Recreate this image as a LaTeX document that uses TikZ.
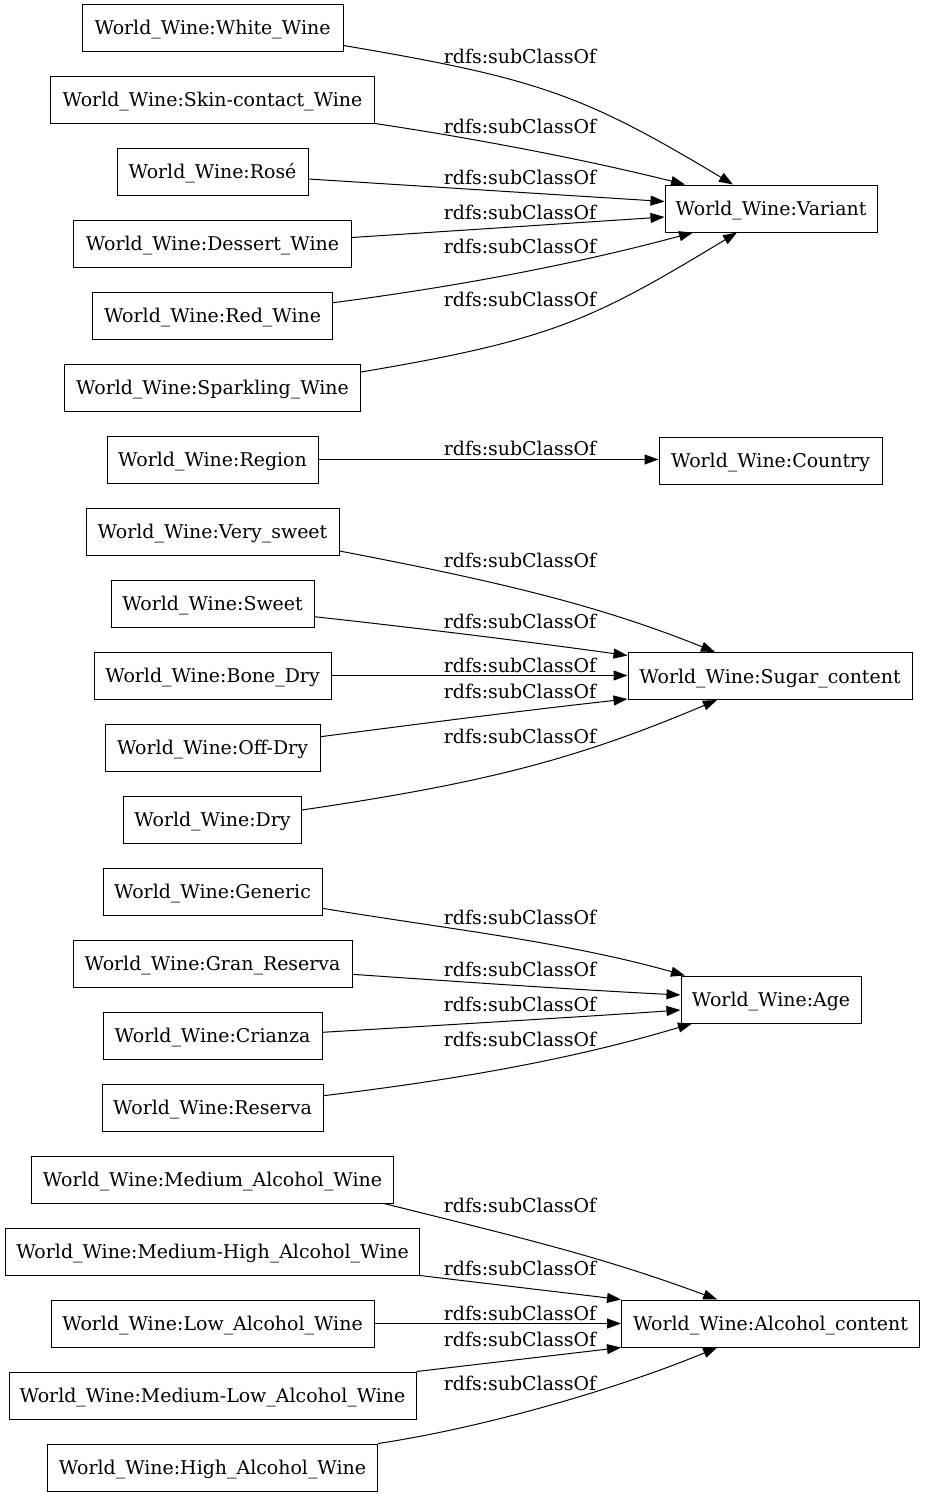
\documentclass[tikz,border=0pt]{standalone}
\usepackage{fontspec}
\setmainfont{DejaVu Serif}
\usetikzlibrary{arrows.meta,calc}
\newlength\refw
\begin{document}
\settowidth{\refw}{\normalfont\fontsize{10pt}{12pt}\selectfont World\_Wine:Variant}%
\pgfmathsetmacro\fsz{10*190.7/\refw}%
\pgfmathsetmacro\txh{0.88*\fsz}%
\pgfmathsetmacro\txd{0.12*\fsz}%
\begin{tikzpicture}[x=1pt,y=-1pt]
\tikzset{
  cls/.style={draw, line width=1pt, inner sep=0pt, minimum height=47pt,
    minimum width=#1, font=\fontsize{\fsz pt}{\fsz pt}\selectfont,
    text height=\txh pt, text depth=\txd pt},
  lbl/.style={inner sep=0pt, anchor=base, font=\fontsize{\fsz pt}{\fsz pt}\selectfont},
  edge/.style={line width=1pt, -{Triangle[length=14pt,width=10pt]}}
}
\path[fill=white] (0,0) rectangle (925,1499);
\useasboundingbox (0,0) rectangle (925,1499);

% left column
\node[cls=261pt] (n1) at (212.5,27.5) {World\_Wine:White\_Wine};
\node[cls=324pt] (n2) at (212.5,99.5) {World\_Wine:Skin-contact\_Wine};
\node[cls=191pt] (n3) at (212.5,171.5) {World\_Wine:Rosé};
\node[cls=278pt] (n4) at (212.5,243.5) {World\_Wine:Dessert\_Wine};
\node[cls=240pt] (n5) at (212.5,315.5) {World\_Wine:Red\_Wine};
\node[cls=296pt] (n6) at (212.5,387.5) {World\_Wine:Sparkling\_Wine};
\node[cls=211pt] (n7) at (212.5,459.5) {World\_Wine:Region};
\node[cls=253pt] (n8) at (212.5,531.5) {World\_Wine:Very\_sweet};
\node[cls=203pt] (n9) at (212.5,603.5) {World\_Wine:Sweet};
\node[cls=237pt] (n10) at (212.5,675.5) {World\_Wine:Bone\_Dry};
\node[cls=215pt] (n11) at (212.5,747.5) {World\_Wine:Off-Dry};
\node[cls=178pt] (n12) at (212.5,819.5) {World\_Wine:Dry};
\node[cls=219pt] (n13) at (212.5,891.5) {World\_Wine:Generic};
\node[cls=279pt] (n14) at (212.5,963.5) {World\_Wine:Gran\_Reserva};
\node[cls=219pt] (n15) at (212.5,1035.5) {World\_Wine:Crianza};
\node[cls=221pt] (n16) at (212.5,1107.5) {World\_Wine:Reserva};
\node[cls=362pt] (n17) at (212.5,1179.5) {World\_Wine:Medium\_Alcohol\_Wine};
\node[cls=414pt] (n18) at (212.5,1251.5) {World\_Wine:Medium-High\_Alcohol\_Wine};
\node[cls=323pt] (n19) at (212.5,1323.5) {World\_Wine:Low\_Alcohol\_Wine};
\node[cls=407pt] (n20) at (212.5,1395.5) {World\_Wine:Medium-Low\_Alcohol\_Wine};
\node[cls=330pt] (n21) at (212.5,1467.5) {World\_Wine:High\_Alcohol\_Wine};

% right column
\node[cls=212pt] (var) at (771,208.5) {World\_Wine:Variant};
\node[cls=223pt] (cty) at (770.5,460.5) {World\_Wine:Country};
\node[cls=284pt] (sug) at (770,676) {World\_Wine:Sugar\_content};
\node[cls=180pt] (age) at (771,999.5) {World\_Wine:Age};
\node[cls=298pt] (alc) at (770.5,1323.5) {World\_Wine:Alcohol\_content};

% edges to Variant
\draw[edge] ($(n1.east)+(0,18)$) .. controls +(195,33) and +(-150,-90) .. ($(var.north)+(-38,0)$);
\draw[edge] (n2.south east) .. controls +(100,15) and +(-100,-25) .. ($(var.north)+(-86,0)$);
\draw[edge] ($(n3.east)+(0,7.5)$) -- ($(var.west)+(0,-7)$);
\draw[edge] ($(n4.east)+(0,-6)$) -- ($(var.west)+(0,8.5)$);
\draw[edge] ($(n5.east)+(0,-12.8)$) .. controls +(120,-15.6) and +(-120,32.4) .. ($(var.south)+(-78,0)$);
\draw[edge] ($(n6.east)+(0,-15.5)$) .. controls +(190,-32) and +(-145,88) .. ($(var.south)+(-34,0)$);
% edge to Country
\draw[edge] (n7.east) -- (n7.east -| cty.west);
% edges to Sugar_content
\draw[edge] ($(n8.east)+(0,19.5)$) .. controls +(162,31) and +(-114,-46) .. ($(sug.north)+(-55,0)$);
\draw[edge] ($(n9.east)+(0,13.2)$) .. controls +(100,11) and +(-100,-14) .. ($(sug.west)+(0,-20.5)$);
\draw[edge] (n10.east) -- (n10.east -| sug.west);
\draw[edge] ($(n11.east)+(0,-10.8)$) .. controls +(100,-13) and +(-100,11) .. ($(sug.west)+(0,23)$);
\draw[edge] ($(n12.east)+(0,-9.5)$) .. controls +(182,-27) and +(-142,60) .. ($(sug.south)+(-53,0)$);
% edges to Age
\draw[edge] ($(n13.east)+(0,16.8)$) .. controls +(120,20) and +(-120,-34) .. ($(age.north)+(-86,0)$);
\draw[edge] ($(n14.east)+(0,10.8)$) .. controls +(100,7) and +(-100,-5) .. ($(age.west)+(0,-4.5)$);
\draw[edge] ($(n15.east)+(0,-3.2)$) .. controls +(100,-6) and +(-100,7) .. ($(age.west)+(0,10.5)$);
\draw[edge] ($(n16.east)+(0,-11.8)$) .. controls +(130,-15.6) and +(-120,36) .. ($(age.south)+(-79,0)$);
% edges to Alcohol_content
\draw[edge] ($(n17.south east)+(-10,0)$) .. controls +(136,34) and +(-116,-43) .. ($(alc.north)+(-53.3,0)$);
\draw[edge] (n18.south east) -- (alc.north west);
\draw[edge] (n19.east) -- (n19.east -| alc.west);
\draw[edge] (n20.north east) -- (alc.south west);
\draw[edge] (n21.north east) .. controls +(113,-17) and +(-91,38) .. ($(alc.south)+(-53.3,0)$);

% labels
\node[lbl] (l1) at (520,63.3) {rdfs:subClassOf};
\node[lbl] (l2) at (520,133) {rdfs:subClassOf};
\node[lbl] (l3) at (520,184.5) {rdfs:subClassOf};
\node[lbl] (l4) at (520,219.5) {rdfs:subClassOf};
\node[lbl] (l5) at (520,253) {rdfs:subClassOf};
\node[lbl] (l6) at (520,306.5) {rdfs:subClassOf};
\node[lbl] (l7) at (520,455.5) {rdfs:subClassOf};
\node[lbl] (l8) at (520,567.5) {rdfs:subClassOf};
\node[lbl] (l9) at (520,628) {rdfs:subClassOf};
\node[lbl] (l10) at (520,672) {rdfs:subClassOf};
\node[lbl] (l11) at (520,698) {rdfs:subClassOf};
\node[lbl] (l12) at (520,743) {rdfs:subClassOf};
\node[lbl] (l13) at (520,924) {rdfs:subClassOf};
\node[lbl] (l14) at (520,976.5) {rdfs:subClassOf};
\node[lbl] (l15) at (520,1011.5) {rdfs:subClassOf};
\node[lbl] (l16) at (520,1046) {rdfs:subClassOf};
\node[lbl] (l17) at (520,1212.5) {rdfs:subClassOf};
\node[lbl] (l18) at (520,1275) {rdfs:subClassOf};
\node[lbl] (l19) at (520,1320.5) {rdfs:subClassOf};
\node[lbl] (l20) at (520,1346) {rdfs:subClassOf};
\node[lbl] (l21) at (520,1390) {rdfs:subClassOf};
\end{tikzpicture}
\end{document}
